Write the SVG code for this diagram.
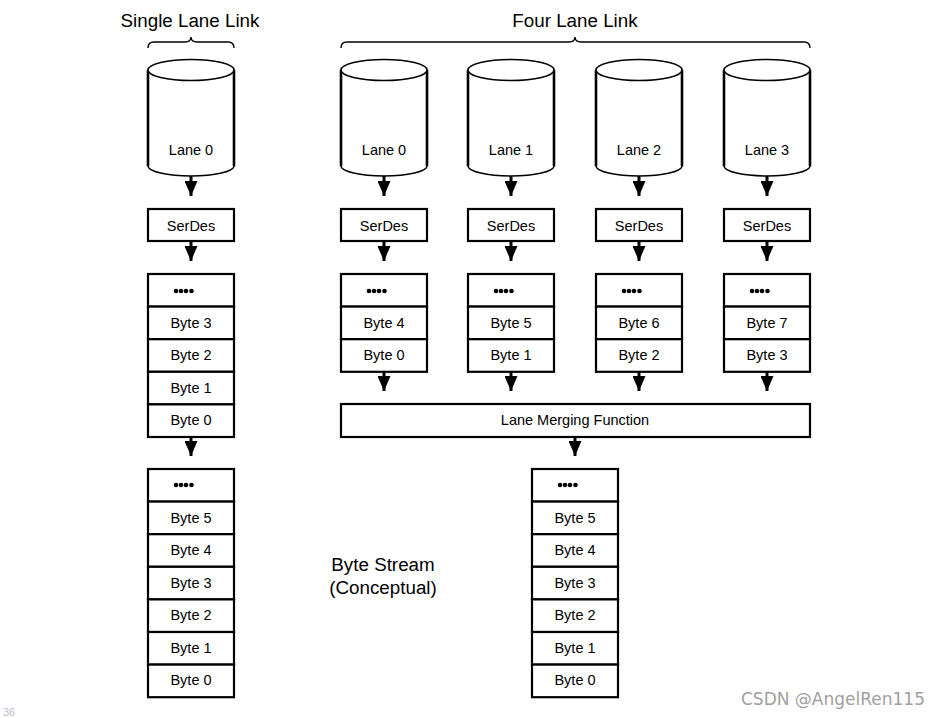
<svg xmlns="http://www.w3.org/2000/svg" width="943" height="718" viewBox="0 0 943 718">
<style>
text{font-family:"Liberation Sans",Arial,sans-serif;fill:#000;text-anchor:middle}
.t{font-size:14.5px}
.h{font-size:18.8px}
.box{fill:#fff;stroke:#000;stroke-width:2.2}
.side{fill:none;stroke:#000;stroke-width:2.6}
.ell{fill:#fff;stroke:#000;stroke-width:1.6}
.brace{fill:none;stroke:#000;stroke-width:1.4}
.shaft{stroke:#000;stroke-width:3;fill:none}
.dot{fill:#000}
</style>
<defs>
<marker id="ah" viewBox="0 0 15 13" refX="15" refY="6.5" markerWidth="15" markerHeight="13" markerUnits="userSpaceOnUse" orient="auto">
<path d="M0,0 L15,6.5 L0,13 Z" fill="#000"/>
</marker>
<g id="cyl">
<path class="ell" d="M0,0 L0,96 A43,10 0 0 0 86,96 L86,0"/>
<path class="side" d="M0,0 L0,96 M86,0 L86,96"/>
<ellipse class="ell" cx="43" cy="0" rx="43" ry="10.5"/>
</g>
<g id="dots">
<circle class="dot" cx="-8" cy="0" r="2.3"/>
<circle class="dot" cx="-3" cy="0" r="2.3"/>
<circle class="dot" cx="2" cy="0" r="2.3"/>
<circle class="dot" cx="7.5" cy="0" r="2.3"/>
</g>
</defs>
<rect width="943" height="718" fill="#fff"/>

<g id="single-title">
<text class="h" x="190" y="27">Single Lane Link</text>
<path class="brace" d="M148,48 Q148,42 154,42 L185,42 Q191,42 191,37 Q191,42 197,42 L228,42 Q234,42 234,48"/>
</g>
<g id="four-title">
<text class="h" x="575" y="27">Four Lane Link</text>
<path class="brace" d="M341,48 Q341,42 347,42 L569,42 Q575,42 575,37 Q575,42 581,42 L804,42 Q810,42 810,48"/>
</g>

<g id="connectors">
<path class="shaft" d="M191,176 V196" marker-end="url(#ah)"/>
<path class="shaft" d="M191,241 V261" marker-end="url(#ah)"/>
<path class="shaft" d="M191,437 V456" marker-end="url(#ah)"/>
<path class="shaft" d="M384,176 V196" marker-end="url(#ah)"/>
<path class="shaft" d="M511,176 V196" marker-end="url(#ah)"/>
<path class="shaft" d="M639,176 V196" marker-end="url(#ah)"/>
<path class="shaft" d="M767,176 V196" marker-end="url(#ah)"/>
<path class="shaft" d="M384,241 V261" marker-end="url(#ah)"/>
<path class="shaft" d="M511,241 V261" marker-end="url(#ah)"/>
<path class="shaft" d="M639,241 V261" marker-end="url(#ah)"/>
<path class="shaft" d="M767,241 V261" marker-end="url(#ah)"/>
<path class="shaft" d="M384,371 V391" marker-end="url(#ah)"/>
<path class="shaft" d="M511,371 V391" marker-end="url(#ah)"/>
<path class="shaft" d="M639,371 V391" marker-end="url(#ah)"/>
<path class="shaft" d="M767,371 V391" marker-end="url(#ah)"/>
<path class="shaft" d="M575,437 V456" marker-end="url(#ah)"/>
</g>

<g id="single-lane0">
<use href="#cyl" x="148" y="70"/>
<text class="t" x="191" y="155">Lane 0</text>
</g>
<g id="single-serdes">
<rect class="box" x="148" y="209" width="86" height="32"/>
<text class="t" x="191" y="231">SerDes</text>
</g>
<g id="single-buffer">
<rect class="box" x="148" y="274" width="86" height="32.6"/>
<rect class="box" x="148" y="306.6" width="86" height="32.6"/>
<rect class="box" x="148" y="339.2" width="86" height="32.6"/>
<rect class="box" x="148" y="371.8" width="86" height="32.6"/>
<rect class="box" x="148" y="404.4" width="86" height="32.6"/>
<use href="#dots" x="184" y="291"/>
<text class="t" x="191" y="328">Byte 3</text>
<text class="t" x="191" y="360">Byte 2</text>
<text class="t" x="191" y="393">Byte 1</text>
<text class="t" x="191" y="425">Byte 0</text>
</g>
<g id="single-stream">
<rect class="box" x="148" y="469" width="86" height="32.6"/>
<rect class="box" x="148" y="501.6" width="86" height="32.6"/>
<rect class="box" x="148" y="534.2" width="86" height="32.6"/>
<rect class="box" x="148" y="566.8" width="86" height="32.6"/>
<rect class="box" x="148" y="599.4" width="86" height="32.6"/>
<rect class="box" x="148" y="632" width="86" height="32.6"/>
<rect class="box" x="148" y="664.6" width="86" height="32.6"/>
<use href="#dots" x="184" y="485"/>
<text class="t" x="191" y="523">Byte 5</text>
<text class="t" x="191" y="555">Byte 4</text>
<text class="t" x="191" y="588">Byte 3</text>
<text class="t" x="191" y="620">Byte 2</text>
<text class="t" x="191" y="653">Byte 1</text>
<text class="t" x="191" y="685">Byte 0</text>
</g>

<g id="lane0">
<use href="#cyl" x="341" y="70"/>
<text class="t" x="384" y="155">Lane 0</text>
<rect class="box" x="341" y="209" width="86" height="32"/>
<text class="t" x="384" y="231">SerDes</text>
<rect class="box" x="341" y="274" width="86" height="32.6"/>
<rect class="box" x="341" y="306.6" width="86" height="32.6"/>
<rect class="box" x="341" y="339.2" width="86" height="32.6"/>
<use href="#dots" x="377" y="291"/>
<text class="t" x="384" y="328">Byte 4</text>
<text class="t" x="384" y="360">Byte 0</text>
</g>
<g id="lane1">
<use href="#cyl" x="468" y="70"/>
<text class="t" x="511" y="155">Lane 1</text>
<rect class="box" x="468" y="209" width="86" height="32"/>
<text class="t" x="511" y="231">SerDes</text>
<rect class="box" x="468" y="274" width="86" height="32.6"/>
<rect class="box" x="468" y="306.6" width="86" height="32.6"/>
<rect class="box" x="468" y="339.2" width="86" height="32.6"/>
<use href="#dots" x="504" y="291"/>
<text class="t" x="511" y="328">Byte 5</text>
<text class="t" x="511" y="360">Byte 1</text>
</g>
<g id="lane2">
<use href="#cyl" x="596" y="70"/>
<text class="t" x="639" y="155">Lane 2</text>
<rect class="box" x="596" y="209" width="86" height="32"/>
<text class="t" x="639" y="231">SerDes</text>
<rect class="box" x="596" y="274" width="86" height="32.6"/>
<rect class="box" x="596" y="306.6" width="86" height="32.6"/>
<rect class="box" x="596" y="339.2" width="86" height="32.6"/>
<use href="#dots" x="632" y="291"/>
<text class="t" x="639" y="328">Byte 6</text>
<text class="t" x="639" y="360">Byte 2</text>
</g>
<g id="lane3">
<use href="#cyl" x="724" y="70"/>
<text class="t" x="767" y="155">Lane 3</text>
<rect class="box" x="724" y="209" width="86" height="32"/>
<text class="t" x="767" y="231">SerDes</text>
<rect class="box" x="724" y="274" width="86" height="32.6"/>
<rect class="box" x="724" y="306.6" width="86" height="32.6"/>
<rect class="box" x="724" y="339.2" width="86" height="32.6"/>
<use href="#dots" x="760" y="291"/>
<text class="t" x="767" y="328">Byte 7</text>
<text class="t" x="767" y="360">Byte 3</text>
</g>
<g id="merge">
<rect class="box" x="341" y="404" width="469" height="33"/>
<text class="t" x="575" y="425">Lane Merging Function</text>
</g>
<g id="four-stream">
<rect class="box" x="532" y="469" width="86" height="32.6"/>
<rect class="box" x="532" y="501.6" width="86" height="32.6"/>
<rect class="box" x="532" y="534.2" width="86" height="32.6"/>
<rect class="box" x="532" y="566.8" width="86" height="32.6"/>
<rect class="box" x="532" y="599.4" width="86" height="32.6"/>
<rect class="box" x="532" y="632" width="86" height="32.6"/>
<rect class="box" x="532" y="664.6" width="86" height="32.6"/>
<use href="#dots" x="568" y="485"/>
<text class="t" x="575" y="523">Byte 5</text>
<text class="t" x="575" y="555">Byte 4</text>
<text class="t" x="575" y="588">Byte 3</text>
<text class="t" x="575" y="620">Byte 2</text>
<text class="t" x="575" y="653">Byte 1</text>
<text class="t" x="575" y="685">Byte 0</text>
</g>
<g id="label">
<text class="h" x="383" y="571">Byte Stream</text>
<text class="h" x="383" y="594">(Conceptual)</text>
</g>
<text x="9" y="716" style="font-size:11px;fill:#b8c0cc">36</text>
<text x="833" y="705" style="font-family:'DejaVu Sans',sans-serif;font-size:17px;fill:#a0a0a0">CSDN @AngelRen115</text>
</svg>
